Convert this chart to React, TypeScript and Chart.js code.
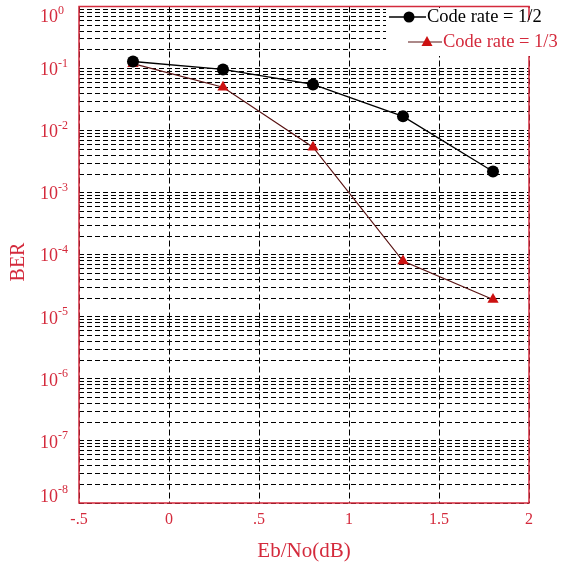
import React, { useEffect, useRef } from "react";
import { Chart, registerables } from "chart.js";

Chart.register(...registerables);

const ebno = [-0.2, 0.3, 0.8, 1.3, 1.8];
const berRateHalf = [0.13, 0.097, 0.0555, 0.017, 0.0022];
const berRateThird = [0.12, 0.05, 0.0054, 7.9e-5, 1.9e-5];
const seriesNames = ["Code rate = 1/2", "Code rate = 1/3"];
const xTickLabels = ["-.5", "0", ".5", "1", "1.5", "2"];
const yDecadeExponents = [0, -1, -2, -3, -4, -5, -6, -7, -8];
const yMultipliers = [1, 2, 3, 4, 5, 6, 7, 8, 9];

const RED = "#d42a3c";
const FONT = "'Liberation Serif', 'Times New Roman', serif";

const decorPlugin = {
  id: "decor",
  afterDraw(chart: any) {
    const { ctx, chartArea } = chart;
    const ys = chart.scales.y;
    const { left, right, top, bottom } = chartArea;
    ctx.save();
    // frame
    ctx.strokeStyle = RED;
    ctx.lineWidth = 1.5;
    ctx.setLineDash([]);
    ctx.strokeRect(left, top, right - left, bottom - top);

    // y tick labels with superscript exponents
    ctx.fillStyle = RED;
    ctx.textAlign = "left";
    ctx.textBaseline = "middle";
    for (const e of yDecadeExponents) {
      const py = ys.getPixelForValue(Math.pow(10, e));
      const cy = Math.min(Math.max(py + 2, top + 11), bottom - 6);
      ctx.font = `18px ${FONT}`;
      ctx.fillText("10", 40, cy);
      const w = ctx.measureText("10").width;
      ctx.font = `12px ${FONT}`;
      ctx.fillText(String(e), 40 + w, cy - 7);
    }

    // y axis title
    ctx.save();
    ctx.translate(19, 262);
    ctx.rotate(-Math.PI / 2);
    ctx.textAlign = "center";
    ctx.textBaseline = "middle";
    ctx.font = `20px ${FONT}`;
    ctx.fillStyle = RED;
    ctx.fillText("BER", 0, 0);
    ctx.restore();

    // legend
    ctx.fillStyle = "#ffffff";
    ctx.fillRect(386, 8, 567 - 386, 48);
    ctx.strokeStyle = RED;
    ctx.lineWidth = 1.5;
    ctx.beginPath();
    ctx.moveTo(right, top);
    ctx.lineTo(right, 20);
    ctx.stroke();

    // entry 1
    ctx.strokeStyle = "#000";
    ctx.lineWidth = 1.5;
    ctx.beginPath();
    ctx.moveTo(389, 17);
    ctx.lineTo(426, 17);
    ctx.stroke();
    ctx.fillStyle = "#000";
    ctx.beginPath();
    ctx.arc(409, 17, 5.5, 0, Math.PI * 2);
    ctx.fill();
    ctx.font = `18.5px ${FONT}`;
    ctx.textAlign = "left";
    ctx.textBaseline = "middle";
    ctx.fillText(seriesNames[0], 427, 17);

    // entry 2
    ctx.strokeStyle = "#5a1414";
    ctx.lineWidth = 1.2;
    ctx.beginPath();
    ctx.moveTo(408, 42);
    ctx.lineTo(442, 42);
    ctx.stroke();
    ctx.fillStyle = "#cc1111";
    ctx.beginPath();
    ctx.moveTo(427, 36);
    ctx.lineTo(432.5, 46);
    ctx.lineTo(421.5, 46);
    ctx.closePath();
    ctx.fill();
    ctx.fillStyle = RED;
    ctx.fillText(seriesNames[1], 443, 42);
    ctx.restore();
  },
};

const yGridValues: number[] = [];
for (const e of yDecadeExponents) {
  for (const m of yMultipliers) {
    const v = m * Math.pow(10, e);
    if (v <= 1.0000001) yGridValues.push(v);
  }
}

export default function App() {
  const ref = useRef<HTMLCanvasElement>(null);
  useEffect(() => {
    if (!ref.current) return;
    const chart = new Chart(ref.current, {
      type: "line",
      data: {
        datasets: [
          {
            label: seriesNames[0],
            data: ebno.map((x, i) => ({ x, y: berRateHalf[i] })),
            borderColor: "#000",
            backgroundColor: "#000",
            borderWidth: 1.3,
            pointStyle: "circle",
            pointRadius: 6,
            pointBorderWidth: 0,
            pointBackgroundColor: "#000",
          },
          {
            label: seriesNames[1],
            data: ebno.map((x, i) => ({ x, y: berRateThird[i] })),
            borderColor: "#5a1414",
            backgroundColor: "#cc1111",
            borderWidth: 1.2,
            pointStyle: "triangle",
            pointRadius: 6.5,
            pointBorderWidth: 0,
            pointBackgroundColor: "#cc1111",
          },
        ],
      },
      options: {
        animation: false,
        responsive: false,
        layout: { padding: { top: 6, right: 38, bottom: 0, left: 0 } },
        plugins: { legend: { display: false }, tooltip: { enabled: false } },
        scales: {
          x: {
            type: "linear",
            min: -0.5,
            max: 2,
            ticks: {
              stepSize: 0.5,
              padding: 7,
              color: RED,
              font: { family: FONT, size: 16 },
              callback: (_v: any, i: number) => xTickLabels[i],
            },
            grid: { color: "#000", lineWidth: 1, drawTicks: false },
            border: { display: false, dash: [6, 3] },
            title: {
              display: true,
              text: "Eb/No(dB)",
              color: RED,
              font: { family: FONT, size: 21 },
              padding: 0,
            },
            afterFit: (s: any) => {
              s.height = 61;
            },
          },
          y: {
            type: "logarithmic",
            min: 1e-8,
            max: 1,
            ticks: { display: false, autoSkip: false },
            grid: { color: "#000", lineWidth: 1, drawTicks: false },
            border: { display: false, dash: [5, 3] },
            afterBuildTicks: (s: any) => {
              s.ticks = yGridValues.map((v) => ({ value: v }));
            },
            afterFit: (s: any) => {
              s.width = 79;
            },
          },
        },
      },
      plugins: [decorPlugin],
    } as any);
    return () => chart.destroy();
  }, []);
  return (
    <div style={{ position: "absolute", left: 0, top: 0, width: 567, height: 564, background: "#fff" }}>
      <canvas ref={ref} width={567} height={564} style={{ display: "block" }} />
    </div>
  );
}
